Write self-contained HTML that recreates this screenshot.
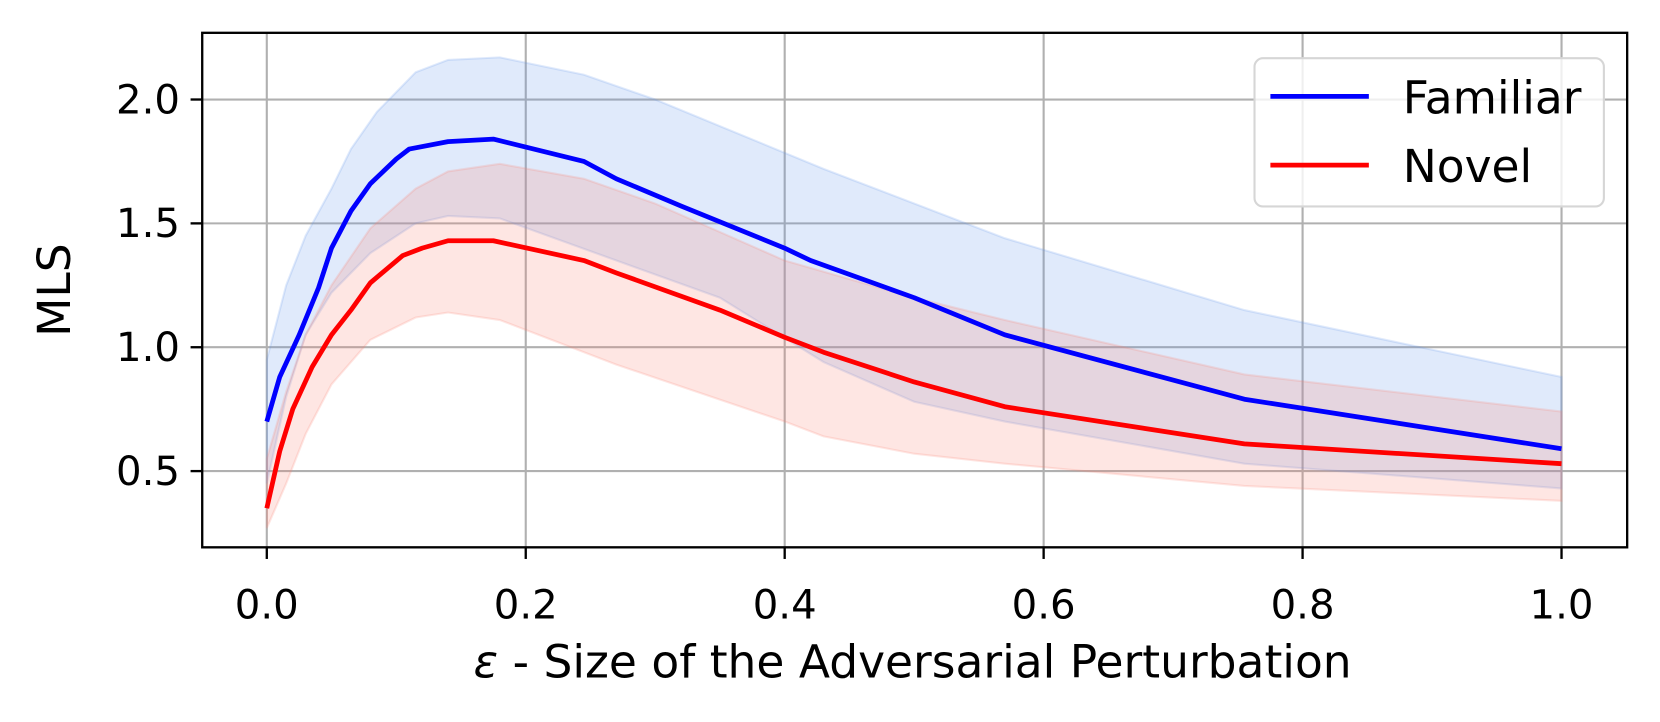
<!DOCTYPE html>
<html><head><meta charset="utf-8"><style>html,body{margin:0;padding:0;background:#fff;}svg{display:block;}</style></head>
<body>
<svg id="s" width="1660" height="722" viewBox="0 0 1568 682" xmlns="http://www.w3.org/2000/svg" font-family="DejaVu Sans, Liberation Sans, sans-serif">
<rect x="0" y="0" width="1568" height="682" fill="#fff"/>
<g id="grid" stroke="#b0b0b0" stroke-width="2"></g>
<g id="bands"></g>
<g id="lines" fill="none" stroke-width="4.5" stroke-linejoin="round"></g>
<rect x="191" y="31" width="1346" height="486" fill="none" stroke="#000" stroke-width="2.2"/>
<g id="ticks" stroke="#000" stroke-width="2.2"></g>
<g id="labels" font-size="38" fill="#000"></g>
<text x="862" y="640" font-size="43" text-anchor="middle"><tspan font-style="italic">ε</tspan> - Size of the Adversarial Perturbation</text>
<text transform="translate(66,274) rotate(-90)" font-size="43" text-anchor="middle">MLS</text>
<rect x="1185" y="55" width="330" height="140" rx="8" fill="#fff" fill-opacity="0.8" stroke="#d6d6d6" stroke-width="2"/>
<line x1="1200" y1="91" x2="1293" y2="91" stroke="#0000ff" stroke-width="4.5"/>
<line x1="1200" y1="156" x2="1293" y2="156" stroke="#ff0000" stroke-width="4.5"/>
<text x="1325" y="107" font-size="43">Familiar</text>
<text x="1325" y="172" font-size="43">Novel</text>
</svg>
<script>
var NS="http://www.w3.org/2000/svg";
function X(v){return 252+1223*v;} function Y(v){return 445-(v-0.5)*234;}
function el(p,t,a){var e=document.createElementNS(NS,t);for(var k in a)e.setAttribute(k,a[k]);document.getElementById(p).appendChild(e);return e;}
[0,0.2,0.4,0.6,0.8,1.0].forEach(function(v){var x=X(v);el('grid','line',{x1:x,x2:x,y1:31,y2:517});el('ticks','line',{x1:x,x2:x,y1:517,y2:528});
 var t=el('labels','text',{x:x,y:584,'text-anchor':'middle'});t.textContent=v.toFixed(1);});
[0.5,1.0,1.5,2.0].forEach(function(v){var y=Y(v);el('grid','line',{x1:191,x2:1537,y1:y,y2:y});el('ticks','line',{x1:180,x2:191,y1:y,y2:y});
 var t=el('labels','text',{x:170,y:y+13,'text-anchor':'end'});t.textContent=v.toFixed(1);});
function pts(a){return a.map(function(p){return X(p[0]).toFixed(1)+','+Y(p[1]).toFixed(1);}).join(' ');}
var fam=[[0,0.70],[0.01,0.88],[0.025,1.05],[0.04,1.24],[0.05,1.40],[0.065,1.55],[0.08,1.66],[0.1,1.76],[0.11,1.80],[0.14,1.83],[0.175,1.84],[0.245,1.75],[0.27,1.68],[0.32,1.57],[0.4,1.40],[0.42,1.35],[0.5,1.20],[0.57,1.05],[0.755,0.79],[1.0,0.59]];
var nov=[[0,0.35],[0.01,0.58],[0.02,0.75],[0.035,0.92],[0.05,1.05],[0.065,1.15],[0.08,1.26],[0.105,1.37],[0.12,1.40],[0.14,1.43],[0.175,1.43],[0.245,1.35],[0.27,1.30],[0.35,1.15],[0.4,1.04],[0.43,0.98],[0.5,0.86],[0.57,0.76],[0.755,0.61],[1.0,0.53]];
var fu=[[0,0.95],[0.015,1.25],[0.03,1.45],[0.05,1.64],[0.065,1.80],[0.085,1.95],[0.115,2.11],[0.14,2.16],[0.18,2.17],[0.245,2.10],[0.3,2.00],[0.43,1.72],[0.57,1.44],[0.755,1.15],[1.0,0.88]];
var fl=[[0,0.45],[0.015,0.80],[0.03,1.05],[0.05,1.22],[0.08,1.38],[0.115,1.50],[0.14,1.53],[0.18,1.52],[0.27,1.35],[0.35,1.20],[0.43,0.94],[0.5,0.78],[0.57,0.70],[0.755,0.53],[1.0,0.43]];
var nu=[[0,0.55],[0.015,0.82],[0.03,1.05],[0.05,1.25],[0.08,1.48],[0.115,1.64],[0.14,1.71],[0.18,1.74],[0.245,1.68],[0.3,1.58],[0.4,1.35],[0.5,1.20],[0.57,1.11],[0.755,0.89],[1.0,0.74]];
var nl=[[0,0.27],[0.015,0.45],[0.03,0.65],[0.05,0.85],[0.08,1.03],[0.115,1.12],[0.14,1.14],[0.18,1.11],[0.27,0.93],[0.4,0.70],[0.43,0.64],[0.5,0.57],[0.57,0.53],[0.755,0.44],[1.0,0.38]];
el('bands','polygon',{points:pts(fu.concat(fl.slice().reverse())),fill:'#6495ed','fill-opacity':0.2,stroke:'#6495ed','stroke-opacity':0.2,'stroke-width':2});
el('bands','polygon',{points:pts(nu.concat(nl.slice().reverse())),fill:'#fa8072','fill-opacity':0.2,stroke:'#fa8072','stroke-opacity':0.2,'stroke-width':2});
el('lines','polyline',{points:pts(fam),stroke:'#0000ff'});
el('lines','polyline',{points:pts(nov),stroke:'#ff0000'});
</script>
</body></html>
